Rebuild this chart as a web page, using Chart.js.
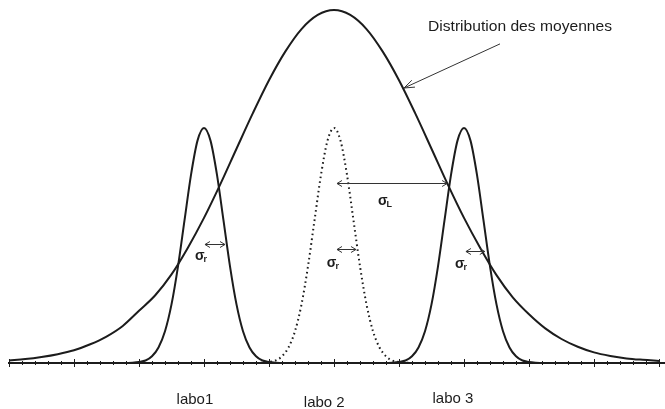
<!DOCTYPE html>
<html>
<head>
<meta charset="utf-8">
<script src="https://cdn.jsdelivr.net/npm/chart.js@4.4.1/dist/chart.umd.min.js"></script>
<style>
  html, body { margin: 0; padding: 0; background: #fff; }
</style>
</head>
<body>
<canvas id="chart" width="665" height="409"></canvas>
<script>
// x in units of the drawn axis (one major tick = 1), y as a fraction of the tallest peak
const wideX = [-5, -4.75, -4.5, -4.25, -4, -3.75, -3.5, -3.25, -3, -2.75, -2.5, -2.25, -2, -1.75, -1.5, -1.25, -1, -0.75, -0.5, -0.25,
  0, 0.25, 0.5, 0.75, 1, 1.25, 1.5, 1.75, 2, 2.25, 2.5, 2.75, 3, 3.25, 3.5, 3.75, 4, 4.25, 4.5, 4.75, 5];
const wideY = [0.007, 0.011, 0.017, 0.025, 0.036, 0.053, 0.075, 0.105, 0.148, 0.192, 0.251, 0.326, 0.411, 0.506, 0.607, 0.707, 0.801, 0.882, 0.946, 0.986,
  1.0, 0.986, 0.946, 0.882, 0.801, 0.707, 0.607, 0.506, 0.411, 0.326, 0.249, 0.186, 0.138, 0.098, 0.068, 0.046, 0.030, 0.020, 0.013, 0.009, 0.006];

const peakOffsets = [-1.2, -1.1, -1.0, -0.9, -0.8, -0.7, -0.6, -0.5, -0.4, -0.3, -0.2, -0.1, 0,
  0.1, 0.2, 0.3, 0.4, 0.5, 0.6, 0.7, 0.8, 0.9, 1.0, 1.1, 1.2];
const labo1Y = [0, 0.001, 0.003, 0.007, 0.019, 0.044, 0.090, 0.166, 0.274, 0.404, 0.533, 0.630, 0.666,
  0.630, 0.533, 0.404, 0.274, 0.166, 0.090, 0.044, 0.019, 0.007, 0.003, 0.001, 0];
const labo2Y = [0, 0.001, 0.003, 0.007, 0.019, 0.044, 0.090, 0.166, 0.274, 0.404, 0.533, 0.630, 0.666,
  0.630, 0.533, 0.404, 0.274, 0.166, 0.090, 0.044, 0.019, 0.007, 0.003, 0.001, 0];
const labo3Y = [0, 0.001, 0.003, 0.007, 0.019, 0.044, 0.090, 0.166, 0.274, 0.404, 0.533, 0.630, 0.666,
  0.630, 0.533, 0.404, 0.274, 0.166, 0.090, 0.044, 0.019, 0.007, 0.003, 0.001, 0];
const peakCenters = [-2, 0, 2];

const labLabels = ["labo1", "labo 2", "labo 3"];
const labLabelX = [-2.14, -0.15, 1.83];
const curveTitle = "Distribution des moyennes";

const ink = "#1c1c1c";

function toPoints(xs, ys, shift) {
  return xs.map((x, i) => ({ x: x + (shift || 0), y: ys[i] }));
}

function lineSet(points, dashed) {
  return {
    data: points,
    showLine: true,
    pointRadius: 0,
    borderColor: ink,
    borderWidth: 2,
    borderDash: dashed ? [1.6, 3.2] : [],
    cubicInterpolationMode: "monotone",
    fill: false,
    clip: false
  };
}

// arrows, labels: anchored in data space, drawn through the scales
const sigmaArrows = [
  { from: -1.985, to: -1.677, y: 0.337 },
  { from: 0.046, to: 0.338, y: 0.323 },
  { from: 2.03, to: 2.32, y: 0.317 },
  { from: 0.046, to: 1.74, y: 0.511 }
];
const sigmaLabels = [
  { x: -2.14, y: 0.292, sub: "r" },
  { x: -0.11, y: 0.272, sub: "r" },
  { x: 1.86, y: 0.269, sub: "r" },
  { x: 0.677, y: 0.448, sub: "L" }
];

const decor = {
  id: "decor",
  afterDatasetsDraw(chart) {
    const ctx = chart.ctx;
    const xs = chart.scales.x, ys = chart.scales.y;
    const px = v => xs.getPixelForValue(v);
    const py = v => ys.getPixelForValue(v);
    const base = py(0);
    ctx.save();

    // axis line + ticks
    ctx.strokeStyle = ink;
    ctx.lineWidth = 2;
    ctx.beginPath();
    ctx.moveTo(px(-5) - 1, base);
    ctx.lineTo(chart.width, base);
    ctx.stroke();
    ctx.lineWidth = 1;
    for (let k = -25; k <= 25; k++) {
      const v = k / 5;
      const x = Math.round(px(v)) + 0.5;
      const len = k % 5 === 0 ? 4 : 2;
      ctx.beginPath();
      ctx.moveTo(x, base - len);
      ctx.lineTo(x, base + len);
      ctx.stroke();
    }

    // double arrows for sigma
    ctx.lineWidth = 1;
    ctx.strokeStyle = "#333";
    sigmaArrows.forEach(a => {
      const x1 = px(a.from), x2 = px(a.to), y = Math.round(py(a.y)) + 0.5;
      ctx.beginPath();
      ctx.moveTo(x1, y); ctx.lineTo(x2, y);
      ctx.moveTo(x1 + 5, y - 3); ctx.lineTo(x1, y); ctx.lineTo(x1 + 5, y + 3);
      ctx.moveTo(x2 - 5, y - 3); ctx.lineTo(x2, y); ctx.lineTo(x2 - 5, y + 3);
      ctx.stroke();
    });

    // pointer to the wide curve
    const tx = px(1.077), ty = py(0.779), sx = px(2.554), sy = py(0.904);
    const ang = Math.atan2(sy - ty, sx - tx);
    ctx.beginPath();
    ctx.moveTo(sx, sy); ctx.lineTo(tx, ty);
    ctx.moveTo(tx + 11 * Math.cos(ang - 0.35), ty + 11 * Math.sin(ang - 0.35));
    ctx.lineTo(tx, ty);
    ctx.lineTo(tx + 11 * Math.cos(ang + 0.35), ty + 11 * Math.sin(ang + 0.35));
    ctx.stroke();

    ctx.fillStyle = ink;
    ctx.textBaseline = "alphabetic";

    // title of the wide curve, stretched like the scan
    ctx.font = "14px 'Liberation Sans', Arial, sans-serif";
    const w = ctx.measureText(curveTitle).width;
    ctx.save();
    ctx.translate(px(1.446), py(0.941));
    ctx.scale(184 / w, 1);
    ctx.fillText(curveTitle, 0, 0);
    ctx.restore();

    // sigma labels
    sigmaLabels.forEach(s => {
      const x = px(s.x), y = py(s.y);
      ctx.font = "bold 14px 'Liberation Sans', Arial, sans-serif";
      ctx.fillText("σ", x, y);
      const sw = ctx.measureText("σ").width;
      ctx.font = "bold 9px 'Liberation Sans', Arial, sans-serif";
      ctx.fillText(s.sub, x + sw - 1, y + 2);
    });

    // lab names under the axis
    ctx.font = "15px 'Liberation Sans', Arial, sans-serif";
    ctx.textAlign = "center";
    const dy = [41, 44, 40];
    labLabels.forEach((t, i) => ctx.fillText(t, px(labLabelX[i]), base + dy[i]));
    ctx.restore();
  }
};

new Chart(document.getElementById("chart"), {
  type: "scatter",
  data: {
    datasets: [
      lineSet(toPoints(wideX, wideY), false),
      lineSet(toPoints(peakOffsets, labo1Y, peakCenters[0]), false),
      lineSet(toPoints(peakOffsets, labo2Y, peakCenters[1]), true),
      lineSet(toPoints(peakOffsets, labo3Y, peakCenters[2]), false)
    ]
  },
  options: {
    responsive: false,
    animation: false,
    layout: { padding: { left: 9, right: 6, top: 10, bottom: 46 } },
    plugins: { legend: { display: false }, tooltip: { enabled: false } },
    scales: {
      x: { type: "linear", min: -5, max: 5, display: false },
      y: { min: 0, max: 1, display: false }
    }
  },
  plugins: [decor]
});
</script>
</body>
</html>
